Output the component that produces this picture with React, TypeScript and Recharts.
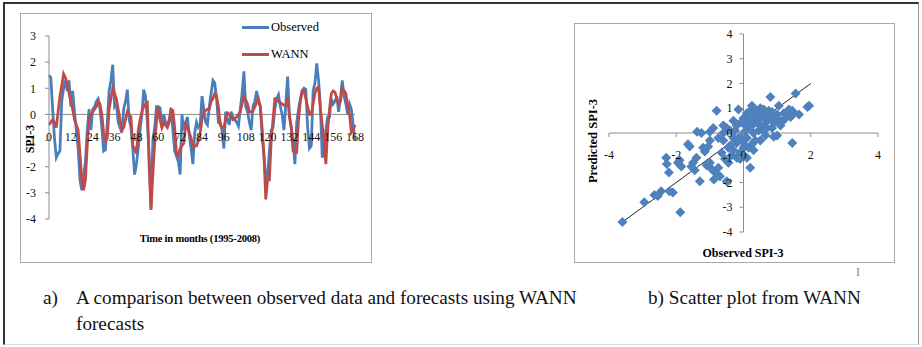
import { LineChart, Line, XAxis, YAxis, ReferenceLine, ScatterChart, Scatter } from "recharts";

// SPI-3 series, one value per month (0..168)
const observed = [
  1.5, 1.4, 0.2, -0.9, -1.65, -1.5, -1.4, 0.5, 1.0, 1.3, 0.9, 1.3, 0.3, 0.9, 0.1, -0.6, -1.3, -2.5, -2.9, -2.3,
  -1.8, -0.6, 0.2, -0.6, 0.2, 0.3, 0.5, 0.6, 0.2, -0.5, -1.4, -1.35, -0.3, 0.9, 1.3, 1.9, 0.3, 0.4, -0.3, -0.5,
  -0.7, 0.2, 0.5, 0.95, -0.2, -0.5, -1.3, -2.3, -1.9, -1.3, -0.6, 0.0, 0.95, 0.7, -0.3, -1.6, -3.6, -1.0, -0.5, 0.3,
  0.3, 0.25, -0.5, 0.0, -0.3, -0.4, -0.2, 0.2, -0.6, -1.4, -1.6, -1.8, -2.3, 0.0, -0.6, -0.3, -0.1, -0.8, -1.3, -1.9,
  -0.7, -0.3, -0.5, -0.4, 0.7, 0.2, -0.3, -0.4, 0.3, 0.8, 1.3, 1.2, 0.6, -0.3, -0.3, -0.6, -1.3, 0.1, -0.2, -0.4,
  0.1, -0.1, -0.2, -0.3, -0.45, 0.2, 0.8, 1.65, 0.3, 0.1, -0.3, -0.6, 0.3, 0.5, 0.9, 0.5, 0.3, -0.8, -1.6, -2.5,
  -2.3, -1.4, -0.6, -0.5, 0.2, 0.6, 0.75, 0.3, 0.0, -0.6, 0.4, 1.45, 0.0, -0.5, -1.0, -1.9, -0.3, 0.2, 0.6, 0.9,
  1.0, 0.95, -0.5, -1.3, -1.2, 0.9, 1.2, 1.95, 1.3, 0.3, -1.6, -1.6, -0.6, -0.1, -0.1, 0.6, 0.4, 0.5, 0.7, 0.1,
  0.6, 1.3, 0.7, 0.4, 0.0, 0.4, 0.2, -0.4, -1.0,
];
const wann = [
  -0.4, -0.3, -0.2, -0.3, -0.5, 0.1, 0.7, 1.1, 1.55, 1.4, 1.2, 0.8, 0.5, 0.2, -0.2, -0.4, -0.6, -1.5, -2.5, -2.9,
  -2.5, -1.2, -0.1, 0.0, 0.1, 0.2, 0.3, 0.5, 0.4, 0.0, -0.7, -1.0, -0.9, 0.2, 0.6, 1.0, 0.8, 0.6, 0.2, -0.2,
  -0.6, -0.5, -0.2, 0.1, 0.0, -0.1, -1.2, -1.3, -1.5, -0.6, -0.2, 0.1, 0.3, 0.4, 0.45, -2.0, -3.65, -2.3, -1.1, -0.3,
  0.3, -0.2, -0.5, -0.3, -0.4, -0.5, -0.3, 0.2, 0.15, -0.5, -1.5, -1.6, -1.3, -1.2, -1.1, -0.4, -0.5, -0.7, -0.9, -1.25,
  -1.2, -1.2, -1.0, -0.7, -0.2, 0.1, 0.15, 0.2, 0.2, 0.5, 0.6, 0.8, 0.7, 0.3, -0.4, -0.5, -0.5, -0.2, 0.05, 0.0,
  -0.1, -0.2, -0.15, -0.1, 0.0, 0.1, 0.4, 0.7, 0.55, 0.4, 0.1, 0.1, 0.15, 0.3, 0.45, 0.6, 0.3, -0.5, -1.5, -3.25,
  -2.5, -2.5, -1.0, -0.2, 0.6, 0.6, 0.5, 0.45, 0.4, 0.35, 0.35, 0.65, -0.1, -0.5, -1.4, -1.45, -1.45, -0.2, 0.5, 0.9,
  0.9, 0.6, 0.3, 0.0, 0.0, 0.4, 0.8, 1.0, 1.05, 0.2, -0.4, -1.0, -1.9, -0.6, 0.2, 0.8, 0.9, 0.85, 0.6, 0.4,
  0.5, 1.0, 0.9, 0.8, 0.3, 0.0, -0.7, -0.6, -0.4,
];
const monthTicks = [0, 12, 24, 36, 48, 60, 72, 84, 96, 108, 120, 132, 144, 156, 168];
const spiTicks = [-4, -3, -2, -1, 0, 1, 2, 3];
const seriesNames = ["Observed", "WANN"];

// scatter: observed vs predicted SPI-3
const scatterObserved = [
  -3.6, -2.95, -2.65, -2.55, -2.45, -2.2, -2.1, -2.3, -2.28, -2.22, -1.88, -1.9, -1.85, -1.95, -1.65, -1.6, -1.45, -1.4,
  -1.38, -1.3, -1.25, -1.2, -1.15, -1.1, -1.0, -1.0, -0.9, -0.85, -0.8, -0.75, -0.7, -0.88, -0.6, -0.6, -0.55, -0.5,
  -0.45, -0.4, -0.35, -0.3, -0.2, -0.15, -0.1, -0.1, -0.05, 0.0, 0.05, 0.1, 0.15, 0.2, 0.2, 0.25, 0.3, 0.3, 0.35, 0.4,
  0.45, 0.5, 0.5, 0.55, 0.6, 0.65, 0.7, 0.75, 0.8, 0.85, 0.9, 0.95, 1.0, 1.05, 1.1, 1.15, 1.2, 1.3, 1.35, 1.4, 1.45,
  1.55, 1.65, 1.9, 1.95, -0.3, -0.25, -0.2, -0.15, 0.0, 0.05, 0.1, 0.1, 0.2, 0.25, 0.3, 0.35, 0.4, 0.45, 0.55, 0.6,
  0.7, 0.8, 0.9, 1.0, 1.05, 0.15, -0.05, 0.0, -0.4, 0.5, 0.6, 0.3, 0.75, -0.6, -0.75, -1.05, -0.3, 0.1, 0.0, -0.5,
  -0.45, -1.5, -1.55, -0.95, 1.25, 1.5, 0.25, -0.65, 1.45, 0.85, -1.0, -0.2,
];
const scatterPredicted = [
  -3.6, -2.8, -2.5, -2.55, -2.35, -2.35, -2.4, -1.0, -1.25, -1.6, -3.2, -1.1, -1.35, -1.2, -0.45, -0.55, -1.5, -1.0,
  0.05, -1.95, 0.0, -0.6, -0.75, -1.3, -1.2, -0.3, 0.2, -1.6, 0.9, -1.4, -1.75, -1.88, 0.3, -0.3, -1.05, -1.95,
  -0.6, 0.1, -0.9, -0.2, 0.3, 0.95, -0.8, -1.05, 0.45, 0.6, -0.5, 0.8, 0.2, -1.4, 0.9, 1.1, -0.7, 0.4, 0.7, 0.9,
  0.1, 0.6, -0.3, 0.8, 0.3, -0.1, 0.5, 0.9, 1.45, 0.2, -0.15, 0.6, 0.75, 1.1, 0.3, 0.45, 0.8, 0.85, 0.95, 0.65, -0.4,
  1.6, 0.75, 1.05, 1.1, 0.5, 0.1, -0.4, -0.2, 0.0, 0.3, -0.2, 0.45, 0.55, 0.3, 0.0, -0.3, 0.55, 0.35, 0.15, 0.65,
  0.2, 0.6, 0.4, -0.1, 0.55, -0.6, -0.3, -0.6, -0.5, 1.0, 0.95, 0.95, 0.7, 0.0, -0.2, -0.55, -0.7, -1.0, -0.95, 0.2,
  -1.2, -1.2, -1.35, -1.45, 0.6, 0.8, -0.45, -0.8, 0.9, 0.85, 0.05, -1.0,
];
const scatterTicksX = [-4, -2, 0, 2, 4];
const scatterTicksY = [-4, -3, -2, -1, 0, 1, 2, 3, 4];
const fitEnds = [-3.6, 2];

const lineData = observed.map((v, i) => ({ month: i, observed: v, wann: wann[i] }));
const scatterData = scatterObserved.map((x, i) => ({ x, y: scatterPredicted[i] }));

const BLUE = "#4A7EBB";
const RED = "#BE4B48";
const AXIS = "#8c8c8c";
const FONT = "'Liberation Serif', 'Times New Roman', serif";

// left chart geometry
const LW = 352;
const LH = 250;
const L_TOP = 23;
const L_XAXIS_H = 44;
const L_PLOT_H = LH - L_TOP - L_XAXIS_H;
const L_ZERO_FROM_BOTTOM = (L_PLOT_H * (0 - -4)) / (3 - -4);

// right chart geometry
const RW = 321;
const RH = 240;
const R_TOP = 11;
const R_LEFT = 35;
const R_RIGHT = 17;
const R_XAXIS_H = 31;
const R_PLOT_H = RH - R_TOP - R_XAXIS_H;
const R_PLOT_W = RW - R_LEFT - R_RIGHT;

const MonthTick = (props: any) => {
  const { x, y, payload } = props;
  return (
    <text x={x} y={y - L_ZERO_FROM_BOTTOM + 27} textAnchor="middle" fontSize={12} fontFamily={FONT} fill="#111">
      {payload.value}
    </text>
  );
};

const ScatterXTick = (props: any) => {
  const { x, y, payload } = props;
  const y0 = y - R_PLOT_H / 2;
  return (
    <g>
      <line x1={x} x2={x} y1={y0} y2={y0 + 4} stroke={AXIS} />
      <text x={x} y={y0 + 26} textAnchor="middle" fontSize={12} fontFamily={FONT} fill="#111">
        {payload.value}
      </text>
    </g>
  );
};

const ScatterYTick = (props: any) => {
  const { x, y, payload } = props;
  const x0 = x + R_PLOT_W / 2;
  return (
    <g>
      <line x1={x0 - 4} x2={x0} y1={y} y2={y} stroke={AXIS} />
      <text x={x0 - 11} y={y + 4} textAnchor="end" fontSize={12} fontFamily={FONT} fill="#111">
        {payload.value}
      </text>
    </g>
  );
};

const Diamond = (props: any) => {
  const { cx, cy } = props;
  const r = 5;
  return <polygon points={`${cx},${cy - r} ${cx + r},${cy} ${cx},${cy + r} ${cx - r},${cy}`} fill="#4F81BD" />;
};

const panel = (left: number, top: number, w: number, h: number): React.CSSProperties => ({
  position: "absolute",
  left,
  top,
  width: w,
  height: h,
  boxSizing: "border-box",
  border: "1px solid #a9a9a9",
  background: "#fff",
});

const captionStyle: React.CSSProperties = {
  position: "absolute",
  top: 285,
  fontSize: 19.2,
  lineHeight: "26px",
  color: "#111",
  whiteSpace: "nowrap",
};

const App = () => {
  const colors = [BLUE, RED];
  return (
    <div style={{ position: "absolute", left: 0, top: 0, width: 922, height: 347, background: "#fff", fontFamily: FONT, overflow: "hidden" }}>
      <div style={{ position: "absolute", left: 3, top: 2, width: 916, height: 343, boxSizing: "border-box", borderTop: "2px solid #333", borderLeft: "2px solid #333", borderRight: "1px solid #999", borderBottom: "1px solid #ddd" }} />

      {/* a) time series */}
      <div style={panel(20, 13, LW, LH)}>
        <div style={{ position: "absolute", left: -1, top: -1 }}>
          <LineChart width={LW} height={LH} data={lineData} margin={{ top: L_TOP, right: 17, bottom: 0, left: 0 }}>
            <XAxis
              dataKey="month"
              type="number"
              domain={[0, 168]}
              ticks={monthTicks}
              height={L_XAXIS_H}
              axisLine={false}
              tickLine={false}
              tickSize={0}
              tickMargin={0}
              tick={<MonthTick />}
              interval={0}
            />
            <YAxis
              domain={[-4, 3]}
              ticks={spiTicks}
              width={29}
              stroke={AXIS}
              tickSize={4}
              tickMargin={9}
              interval={0}
              tick={{ fontSize: 12, fontFamily: FONT, fill: "#111" }}
            />
            <ReferenceLine y={0} stroke={AXIS} />
            <Line type="linear" dataKey="observed" name={seriesNames[0]} stroke={BLUE} strokeWidth={2.75} dot={false} isAnimationActive={false} />
            <Line type="linear" dataKey="wann" name={seriesNames[1]} stroke={RED} strokeWidth={2.75} dot={false} isAnimationActive={false} />
          </LineChart>
        </div>
        {/* legend */}
        <div style={{ position: "absolute", left: 221, top: 0, fontSize: 12.5 }}>
          {seriesNames.map((n, i) => (
            <div key={n} style={{ display: "flex", alignItems: "center", height: 27 }}>
              <span style={{ display: "inline-block", width: 27, height: 3, background: colors[i], marginRight: 2 }} />
              <span>{n}</span>
            </div>
          ))}
        </div>
        <div style={{ position: "absolute", left: 9, top: 125, transform: "translate(-50%,-50%) rotate(-90deg)", fontWeight: "bold", fontSize: 12, whiteSpace: "nowrap" }}>
          SPI-3
        </div>
        <div style={{ position: "absolute", left: 179, top: 224, transform: "translate(-50%,-50%)", fontWeight: "bold", fontSize: 10.5, whiteSpace: "nowrap", letterSpacing: -0.2 }}>
          Time in months (1995-2008)
        </div>
      </div>

      {/* b) scatter */}
      <div style={panel(574, 23, RW, RH)}>
        <div style={{ position: "absolute", left: -1, top: -1 }}>
          <ScatterChart width={RW} height={RH} margin={{ top: R_TOP, right: R_RIGHT, bottom: 0, left: 0 }}>
            <XAxis
              dataKey="x"
              type="number"
              domain={[-4, 4]}
              ticks={scatterTicksX}
              height={R_XAXIS_H}
              axisLine={false}
              tickLine={false}
              tickSize={0}
              tickMargin={0}
              tick={<ScatterXTick />}
              interval={0}
            />
            <YAxis
              dataKey="y"
              type="number"
              domain={[-4, 4]}
              ticks={scatterTicksY}
              width={R_LEFT}
              axisLine={false}
              tickLine={false}
              tickSize={0}
              tickMargin={0}
              tick={<ScatterYTick />}
              interval={0}
            />
            <ReferenceLine y={0} stroke={AXIS} />
            <ReferenceLine x={0} stroke={AXIS} />
            <Scatter data={scatterData} shape={<Diamond />} isAnimationActive={false} />
            <ReferenceLine
              segment={[
                { x: fitEnds[0], y: fitEnds[0] },
                { x: fitEnds[1], y: fitEnds[1] },
              ]}
              stroke="#222"
              strokeWidth={1}
            />
          </ScatterChart>
        </div>
        <div style={{ position: "absolute", left: 18, top: 117, transform: "translate(-50%,-50%) rotate(-90deg)", fontWeight: "bold", fontSize: 12.5, whiteSpace: "nowrap" }}>
          Predicted SPI-3
        </div>
        <div style={{ position: "absolute", left: 168, top: 229, transform: "translate(-50%,-50%)", fontWeight: "bold", fontSize: 12, whiteSpace: "nowrap" }}>
          Observed SPI-3
        </div>
      </div>

      <div style={{ position: "absolute", left: 856, top: 265, fontSize: 12, color: "#888" }}>I</div>

      <div style={{ ...captionStyle, left: 43 }}>a)</div>
      <div style={{ ...captionStyle, left: 76 }}>
        A comparison between observed data and forecasts using WANN
        <br />
        forecasts
      </div>
      <div style={{ ...captionStyle, left: 648 }}>b) Scatter plot from WANN</div>
    </div>
  );
};

export default App;
